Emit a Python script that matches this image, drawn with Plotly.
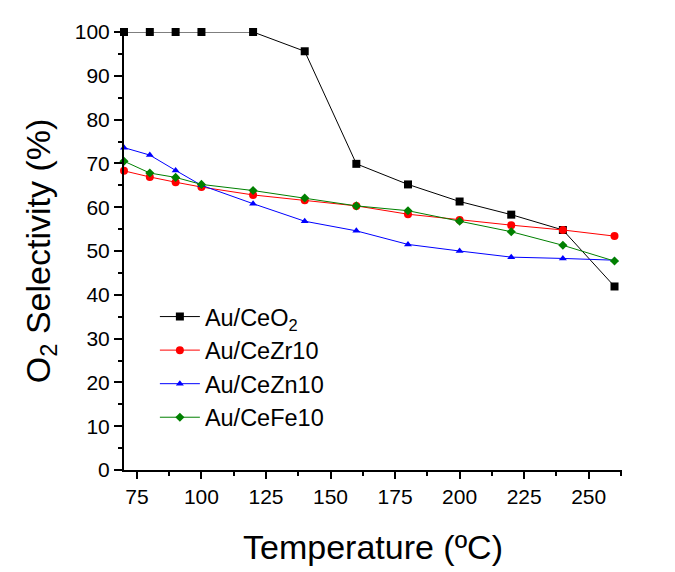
import plotly.graph_objects as go

temps = [70, 80, 90, 100, 120, 140, 160, 180, 200, 220, 240, 260]
au_ceo2 = [100, 100, 100, 100, 100, 95.6, 69.9, 65.2, 61.3, 58.3, 54.8, 41.9]
au_cezr10 = [68.3, 66.9, 65.7, 64.6, 62.8, 61.6, 60.3, 58.4, 57.1, 55.9, 54.8, 53.4]
au_cezn10 = [73.6, 71.9, 68.4, 65.0, 60.8, 56.8, 54.6, 51.5, 50.0, 48.6, 48.3, 47.9]
au_cefe10 = [70.5, 67.8, 66.8, 65.2, 63.8, 62.1, 60.3, 59.2, 56.8, 54.4, 51.3, 47.7]

series = [
    ("Au/CeO<sub>2</sub>", au_ceo2, "black", "square", 8),
    ("Au/CeZr10", au_cezr10, "red", "circle", 8),
    ("Au/CeZn10", au_cezn10, "blue", "triangle-up", 7),
    ("Au/CeFe10", au_cefe10, "green", "diamond", 7),
]

fig = go.Figure()
for name, vals, color, sym, sz in series:
    fig.add_trace(go.Scatter(
        x=temps, y=vals, name=name, mode="lines+markers",
        line=dict(color=color, width=1),
        marker=dict(symbol=sym, size=sz, color=color),
        cliponaxis=False,
    ))

font = "Liberation Sans, Arial, sans-serif"
fig.update_layout(
    width=667, height=564,
    margin=dict(l=116, r=53, t=20, b=100),
    paper_bgcolor="white", plot_bgcolor="white",
    font=dict(family=font, color="black"),
    showlegend=True,
    legend=dict(
        x=0.062, y=0.40, xanchor="left", yanchor="top",
        font=dict(size=23.5, family=font), bgcolor="rgba(0,0,0,0)",
        tracegroupgap=0, itemwidth=40,
    ),
    xaxis=dict(
        range=[70, 262.9], tickmode="linear", tick0=75, dtick=25,
        ticks="outside", ticklen=7, tickwidth=1.5, tickcolor="black",
        showline=True, linecolor="black", linewidth=2, showgrid=False, zeroline=False,
        tickfont=dict(size=21, family=font),
        minor=dict(dtick=12.5, tick0=75, ticks="outside", ticklen=4, tickcolor="black", tickwidth=1.5),
        title=dict(text="Temperature (ºC)", font=dict(size=34, family=font), standoff=28),
    ),
    yaxis=dict(
        range=[0, 100], tickmode="linear", tick0=0, dtick=10,
        ticks="outside", ticklen=8, tickwidth=1.5, tickcolor="black",
        showline=True, linecolor="black", linewidth=2, showgrid=False, zeroline=False,
        tickfont=dict(size=21, family=font),
        minor=dict(dtick=5, ticks="outside", ticklen=4, tickcolor="black", tickwidth=1.5),
        title=dict(text="O<sub>2</sub> Selectivity (%)", font=dict(size=34, family=font), standoff=14),
    ),
)

fig.write_html("out.html")
